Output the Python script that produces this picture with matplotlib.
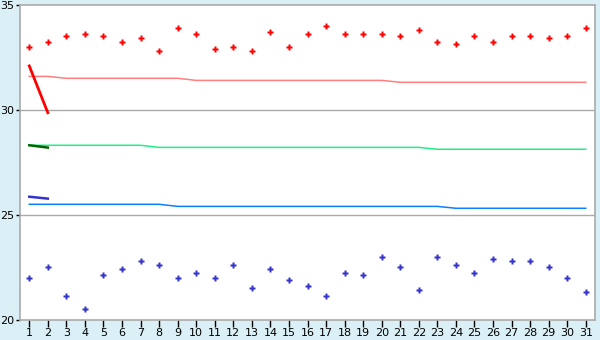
import matplotlib
matplotlib.use("Agg")
import matplotlib.pyplot as plt
import numpy as np

days = list(range(1, 32))

# daily highs / lows (scatter)
high = [33.0, 33.22, 33.52, 33.62, 33.52, 33.22, 33.41, 32.79, 33.89, 33.62,
        32.89, 32.99, 32.79, 33.70, 32.99, 33.60, 33.98, 33.60, 33.60, 33.60,
        33.51, 33.79, 33.22, 33.13, 33.51, 33.22, 33.51, 33.51, 33.41, 33.51,
        33.89]
low = [21.98, 22.51, 21.13, 20.51, 22.13, 22.41, 22.79, 22.60, 21.98, 22.22,
       21.98, 22.60, 21.51, 22.41, 21.89, 21.60, 21.13, 22.22, 22.13, 22.98,
       22.51, 21.41, 22.98, 22.60, 22.22, 22.89, 22.79, 22.79, 22.51, 21.98,
       21.32]

# long-term reference lines
ref_high = [31.60, 31.60] + [31.51] * 7 + [31.41] * 11 + [31.32] * 11
ref_mean = [28.32] * 7 + [28.22] * 15 + [28.13] * 9
ref_low = [25.51] * 8 + [25.41] * 15 + [25.32] * 8

# short current-period lines
cur_days = [1, 2]
cur_high = [32.10, 29.87]
cur_mean = [28.32, 28.21]
cur_low = [25.87, 25.78]

fig = plt.figure(figsize=(6, 3.4), dpi=100, facecolor="#daf0f6")
ax = fig.add_axes([20 / 600, 20 / 340, 575 / 600, 315 / 340])
ax.set_facecolor("white")

ax.axhline(30, color="#aaaaaa", lw=1, zorder=1)
ax.axhline(25, color="#aaaaaa", lw=1, zorder=1)

ax.plot(days, ref_high, color="#ff7f7f", lw=1.1, zorder=2)
ax.plot(days, ref_mean, color="#22ee88", lw=1.1, zorder=2)
ax.plot(days, ref_low, color="#0a7fff", lw=1.1, zorder=2)

ax.plot(cur_days, cur_high, color="#ff0000", lw=2, zorder=3)
ax.plot(cur_days, cur_mean, color="#006600", lw=1.8, zorder=3)
ax.plot(cur_days, cur_low, color="#3333cc", lw=1.8, zorder=3)

ax.plot(days, high, ls="none", marker="P", ms=5, color="#ff0000", mec="none", zorder=4)
ax.plot(days, low, ls="none", marker="P", ms=5, color="#3333cc", mec="none", zorder=4)

ax.set_xlim(0.5, 31.5)
ax.set_ylim(20, 35)
ax.set_xticks(days)
ax.set_yticks([20, 25, 30, 35])
for s in ax.spines.values():
    s.set_color("#aaaaaa")
    s.set_linewidth(1.2)
ax.tick_params(axis="x", length=5, width=1, color="black", labelsize=8, pad=1)
ax.tick_params(axis="y", length=3, width=1, color="black", labelsize=8, pad=1)

plt.savefig("out.png", dpi=100, facecolor=fig.get_facecolor())
